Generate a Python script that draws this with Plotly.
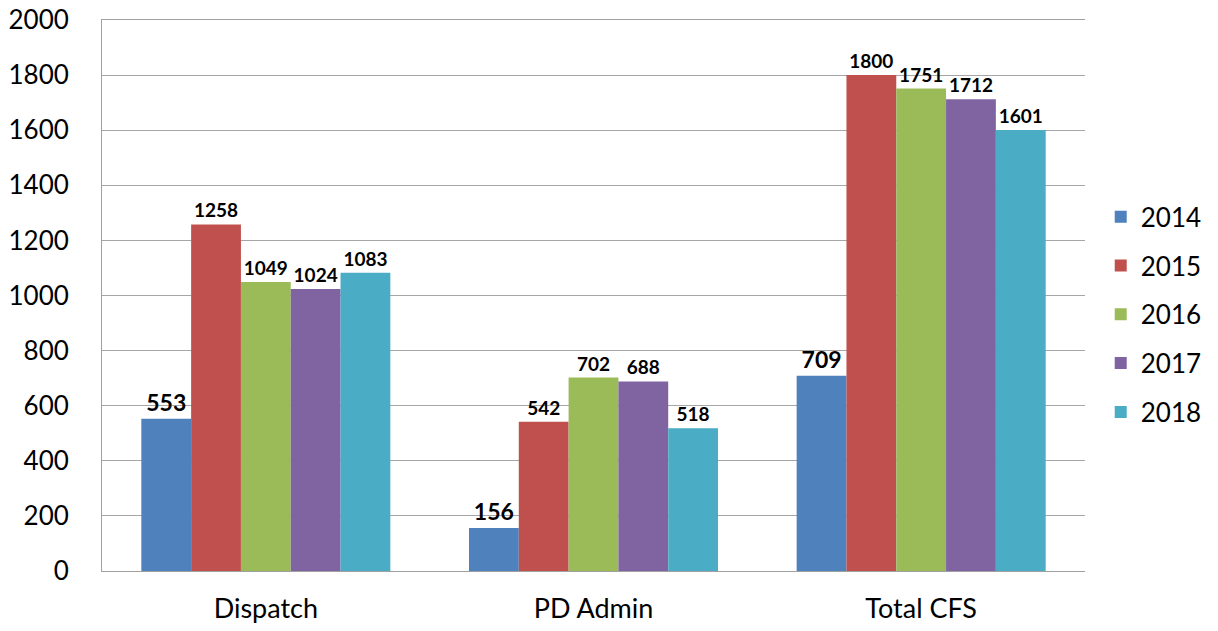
import plotly.graph_objects as go

categories = ["Dispatch", "PD Admin", "Total CFS"]
years = ["2014", "2015", "2016", "2017", "2018"]
values = {
    "2014": [553, 156, 709],
    "2015": [1258, 542, 1800],
    "2016": [1049, 702, 1751],
    "2017": [1024, 688, 1712],
    "2018": [1083, 518, 1601],
}
colors = ["#4F81BD", "#C0504D", "#9BBB59", "#8064A2", "#4BACC6"]
label_sizes = [23, 19, 19, 19, 19]

fig = go.Figure()
for yr, col, ls in zip(years, colors, label_sizes):
    fig.add_trace(go.Bar(
        name=yr, x=categories, y=values[yr], legendgroup=yr,
        marker=dict(color=col, line=dict(width=0)),
        text=[str(v) for v in values[yr]],
        textposition="outside", cliponaxis=False, constraintext="none",
        textfont=dict(family="Lato", size=ls, color="black", weight="bold"),
    ))

fig.update_layout(
    width=1210, height=623,
    barmode="group", bargap=0.24, bargroupgap=0,
    plot_bgcolor="white", paper_bgcolor="white",
    margin=dict(l=94, r=133, t=12, b=60, autoexpand=False),
    font=dict(family="Lato", color="black"),
    legend=dict(x=1.016, y=0.465, yanchor="middle", xanchor="left",
                font=dict(size=26), itemwidth=30, tracegroupgap=12),
    xaxis=dict(tickfont=dict(size=27), showline=True, linecolor="#A0A0A0",
               mirror=True, ticks="", showgrid=False, automargin=False,
               ticklabelstandoff=14),
    yaxis=dict(range=[0, 2000], dtick=200, tickfont=dict(size=26),
               showgrid=True, gridcolor="#A6A6A6", gridwidth=1,
               showline=True, linecolor="#A0A0A0", ticks="",
               zeroline=False, automargin=False, ticklabelstandoff=27,
               ticklabeloverflow="allow"),
)
fig.write_html("out.html")
